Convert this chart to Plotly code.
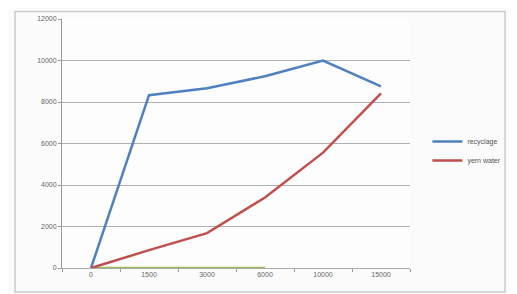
import plotly.graph_objects as go

categories = ["0", "1500", "3000", "6000", "10000", "15000"]
recyclage = [0, 8330, 8660, 9240, 10000, 8750]
yern_water = [0, 860, 1680, 3400, 5560, 8420]
third_series = [0, 0, 0, 0]
y_ticks = [0, 2000, 4000, 6000, 8000, 10000, 12000]
y_tick_labels = ["0", "2000", "4000", "6000", "8000", "10000", "12000"]

fig = go.Figure()
fig.add_trace(go.Scatter(x=categories[:4], y=third_series, mode="lines",
                         line=dict(color="#9bbb59", width=2.5), showlegend=False))
fig.add_trace(go.Scatter(x=categories, y=recyclage, mode="lines", name="recyclage",
                         line=dict(color="#4f81bd", width=2.5)))
fig.add_trace(go.Scatter(x=categories, y=yern_water, mode="lines", name="yern water",
                         line=dict(color="#c0504d", width=2.5)))

fig.update_layout(
    width=517, height=294,
    margin=dict(l=54, r=115, t=7, b=34),
    paper_bgcolor="#fbfbfb",
    plot_bgcolor="#fdfdfd",
    font=dict(family="Liberation Sans", size=7, color="#666666"),
    legend=dict(x=1.05, y=0.47, xanchor="left", yanchor="middle",
                bgcolor="rgba(0,0,0,0)", font=dict(size=7, color="#555555"),
                tracegroupgap=2, itemwidth=30),
    xaxis=dict(type="category", range=[-0.5, 5.5], showgrid=False,
               showline=True, linecolor="#aaaaaa", linewidth=1,
               ticks="outside", ticklen=3, tickcolor="#999999",
               tickson="boundaries", zeroline=False, layer="below traces"),
    yaxis=dict(range=[0, 12000], tickvals=y_ticks, ticktext=y_tick_labels,
               showgrid=True, gridcolor="#b0b0b0", gridwidth=1, showline=True,
               linecolor="#999999", linewidth=1, ticks="outside", ticklen=3,
               tickcolor="#999999", zeroline=False, ticksuffix="  ",
               layer="below traces"),
    shapes=[dict(type="rect", xref="paper", yref="paper",
                 x0=-0.135, x1=1.273, y0=-0.096, y1=1.03,
                 line=dict(color="#cccccc", width=1.5), fillcolor="rgba(0,0,0,0)")],
)

fig.write_html("out.html")
